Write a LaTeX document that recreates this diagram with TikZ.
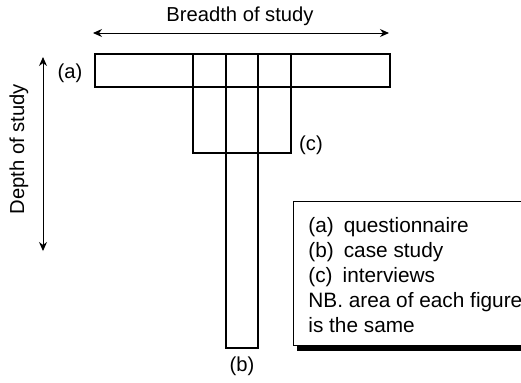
\documentclass[tikz,border=0pt]{standalone}
\usepackage{fontspec}
\setmainfont{Liberation Sans}
\usetikzlibrary{arrows.meta}

\begin{document}
\begin{tikzpicture}[x=0.5pt,y=-0.5pt,
	figbox/.style={line width=1pt},
	axis/.style={line width=0.5pt,{Stealth[length=4.5pt,width=4pt]}-{Stealth[length=4.5pt,width=4pt]}},
	lbl/.style={font=\fontsize{10.1}{12.5}\selectfont,inner sep=0pt},
	keytxt/.style={font=\fontsize{10.4}{12.5}\selectfont,inner sep=0pt,anchor=base west}]
	\useasboundingbox (0,0) rectangle (521,382);
	\clip (0,0) rectangle (521,382);
	% axes
	\coordinate (bleft) at (93,33);
	\coordinate (bright) at (389,33);
	\draw[axis] (bleft) -- (bright);
	\node[lbl] (breadth) at (240,16) {Breadth of study};
	\coordinate (dtop) at (43,57);
	\coordinate (dbot) at (43,251);
	\draw[axis] (dtop) -- (dbot);
	\node[lbl,rotate=90] (depth) at (19,149) {Depth of study};
	% the three figures
	\draw[figbox] (95,54) rectangle (390,87);
	\draw[figbox] (193,54) rectangle (291,153);
	\draw[figbox] (226,54) rectangle (258,348);
	\node[lbl] (la) at (70,73) {(a)};
	\node[lbl] (lc) at (311,145) {(c)};
	\node[lbl] (lb) at (242,366) {(b)};
	% key
	\fill (297,205) rectangle (540,351);
	\draw[line width=0.5pt,fill=white] (293,201) rectangle (535,345);
	\node[keytxt] (ka) at (308,232) {(a)\hspace{5pt}questionnaire};
	\node[keytxt] (kb) at (308,257) {(b)\hspace{5pt}case study};
	\node[keytxt] (kc) at (308,282) {(c)\hspace{5pt}interviews};
	\node[keytxt] (knb) at (308,307) {NB. area of each figure};
	\node[keytxt] (ksame) at (308,332) {is the same};
\end{tikzpicture}
\end{document}
